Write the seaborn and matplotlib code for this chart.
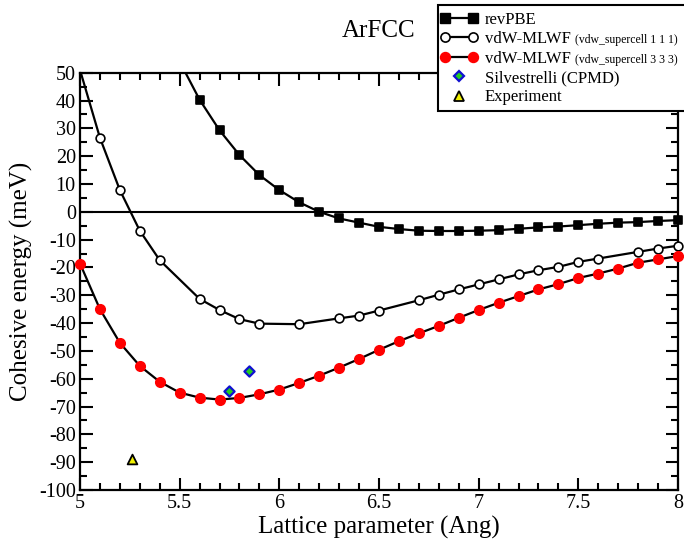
import matplotlib
matplotlib.use("Agg")
import numpy as np
import matplotlib.pyplot as plt
import seaborn as sns
from matplotlib.lines import Line2D
from matplotlib.patches import Rectangle
from matplotlib.legend_handler import HandlerLine2D
from matplotlib.ticker import MultipleLocator, FuncFormatter

# Lattice parameter (Ang) and cohesive energy (meV) of fcc argon
x_revpbe = [5.5, 5.6, 5.7, 5.8, 5.9, 6.0, 6.1, 6.2, 6.3, 6.4, 6.5, 6.6, 6.7,
            6.8, 6.9, 7.0, 7.1, 7.2, 7.3, 7.4, 7.5, 7.6, 7.7, 7.8, 7.9, 8.0]
y_revpbe = [54.0, 40.3, 29.3, 20.4, 13.2, 7.8, 3.4, 0.0, -2.4, -3.9, -5.4, -6.2, -6.8,
            -6.9, -6.9, -6.8, -6.6, -6.1, -5.6, -5.3, -4.8, -4.3, -3.9, -3.7, -3.3, -3.0]

x_sc111 = [5.0, 5.1, 5.2, 5.3, 5.4, 5.6, 5.7, 5.8, 5.9, 6.1, 6.3, 6.4, 6.5,
           6.7, 6.8, 6.9, 7.0, 7.1, 7.2, 7.3, 7.4, 7.5, 7.6, 7.8, 7.9, 8.0]
y_sc111 = [51.0, 26.6, 7.8, -6.8, -17.4, -31.3, -35.3, -38.6, -40.2, -40.4, -38.3, -37.3, -35.5,
           -31.8, -29.8, -27.9, -26.1, -24.3, -22.5, -21.0, -19.8, -18.0, -16.8, -14.4, -13.2, -12.2]

x_sc333 = [5.0, 5.1, 5.2, 5.3, 5.4, 5.5, 5.6, 5.7, 5.8, 5.9, 6.0, 6.1, 6.2, 6.3, 6.4, 6.5,
           6.6, 6.7, 6.8, 6.9, 7.0, 7.1, 7.2, 7.3, 7.4, 7.5, 7.6, 7.7, 7.8, 7.9, 8.0]
y_sc333 = [-18.6, -35.0, -47.1, -55.4, -61.1, -65.0, -66.8, -67.5, -66.9, -65.6, -63.9, -61.5,
           -58.9, -56.0, -52.9, -49.6, -46.5, -43.7, -41.0, -38.1, -35.3, -32.7, -30.3, -27.9,
           -26.0, -23.8, -22.2, -20.4, -18.3, -17.1, -15.9]

x_silv = [5.75, 5.85]
y_silv = [-64.3, -57.2]

x_exp = [5.26]
y_exp = [-88.7]

labels = ["revPBE", "vdW-MLWF", "vdW-MLWF", "Silvestrelli (CPMD)", "Experiment"]
sublabels = ["(vdw_supercell 1 1 1)", "(vdw_supercell 3 3 3)"]

XMIN, XMAX, YMIN, YMAX = 5.0, 8.0, -100.0, 50.0

sns.set_theme(style="ticks")
plt.rcParams["font.family"] = ["Liberation Serif", "DejaVu Serif"]
plt.rcParams["axes.unicode_minus"] = False

W, H = 684, 539
fig = plt.figure(figsize=(W / 100, H / 100), dpi=100)
ax = fig.add_axes([80 / W, 1 - 490 / H, 598 / W, (490 - 72.7) / H])


def series(x, y, marker, face, edge, size, mew=1.2):
    x = np.asarray(x, float)
    y = np.asarray(y, float)
    sns.lineplot(x=x, y=y, ax=ax, color="black", lw=1.6, sort=False,
                 estimator=None, legend=False, zorder=2)
    inside = (x >= XMIN) & (x <= XMAX) & (y >= YMIN) & (y <= YMAX)
    sns.scatterplot(x=x[inside], y=y[inside], ax=ax, marker=marker, s=size ** 2,
                    color=face, edgecolor=edge, linewidth=mew, legend=False,
                    clip_on=False, zorder=3)


ax.axhline(0, color="black", lw=1.5, zorder=1)
series(x_revpbe, y_revpbe, "s", "black", "black", 6.3)
series(x_sc111, y_sc111, "o", "white", "black", 6.3)
series(x_sc333, y_sc333, "o", "#ff0000", "#ff0000", 6.8)
sns.scatterplot(x=x_silv, y=y_silv, ax=ax, marker="D", s=5.2 ** 2, color="#22cc22",
                edgecolor="#1010d0", linewidth=1.6, legend=False, clip_on=False, zorder=4)
sns.scatterplot(x=x_exp, y=y_exp, ax=ax, marker="^", s=7 ** 2, color="#f0f000",
                edgecolor="black", linewidth=1.3, legend=False, clip_on=False, zorder=4)

ax.set_xlim(XMIN, XMAX)
ax.set_ylim(YMIN, YMAX)
ax.xaxis.set_major_locator(MultipleLocator(0.5))
ax.xaxis.set_minor_locator(MultipleLocator(0.1))
ax.yaxis.set_major_locator(MultipleLocator(10))
ax.yaxis.set_minor_locator(MultipleLocator(5))
fmt = FuncFormatter(lambda v, p: "%g" % v)
ax.xaxis.set_major_formatter(fmt)
ax.yaxis.set_major_formatter(fmt)
ax.tick_params(which="both", direction="in", top=True, right=True,
               width=1.5, color="black", labelsize=14.5, labelcolor="black")
ax.tick_params(which="major", length=9, pad=3)
ax.tick_params(which="minor", length=5)
for sp in ax.spines.values():
    sp.set_linewidth(1.6)
    sp.set_color("black")

ax.set_xlabel("Lattice parameter (Ang)", fontsize=18, labelpad=2, color="black")
ax.set_ylabel("Cohesive energy (meV)", fontsize=18, labelpad=4, color="black")
ax.set_title("ArFCC", fontsize=18, pad=26, color="black")

# legend box, drawn over the top-right corner of the axes
fig.add_artist(Rectangle((438 / W, 1 - 110.7 / H), 0.5, 110.7 / H - 5 / H,
                         transform=fig.transFigure, facecolor="white", ec="black",
                         lw=1.5, zorder=10))
handles = [
    Line2D([], [], color="black", lw=1.6, marker="s", mfc="black", mec="black", ms=6.8),
    Line2D([], [], color="black", lw=1.6, marker="o", mfc="white", mec="black", ms=6.6, mew=1.2),
    Line2D([], [], color="black", lw=1.6, marker="o", mfc="#ff0000", mec="#ff0000", ms=7.2),
    Line2D([], [], ls="none", marker="D", mfc="#22cc22", mec="#1010d0", ms=5.4, mew=1.6),
    Line2D([], [], ls="none", marker="^", mfc="#f0f000", mec="black", ms=7.2, mew=1.3),
]
hmap = {h: HandlerLine2D(numpoints=2 if i < 3 else 1, marker_pad=0.0)
        for i, h in enumerate(handles)}
leg = fig.legend(handles, labels, handler_map=hmap, loc="upper left",
                 bbox_to_anchor=(445 / W, 1 - 12 / H), bbox_transform=fig.transFigure,
                 frameon=False, fontsize=12, handlelength=1.7, handletextpad=0.7,
                 labelspacing=0.2, borderaxespad=0, borderpad=0.0)
leg.set_zorder(11)
for t in leg.get_texts():
    t.set_color("black")

# smaller qualifier text after the two vdW-MLWF labels
fig.canvas.draw()
inv = fig.transFigure.inverted()
for t, s in zip(leg.get_texts()[1:3], sublabels):
    bb = t.get_window_extent()
    x0, y0 = inv.transform((bb.x1 + 4, bb.y0 + 4))
    fig.text(x0, y0, s, fontsize=8.5, ha="left", va="baseline", color="black", zorder=12)

fig.savefig("out.png", dpi=100)
